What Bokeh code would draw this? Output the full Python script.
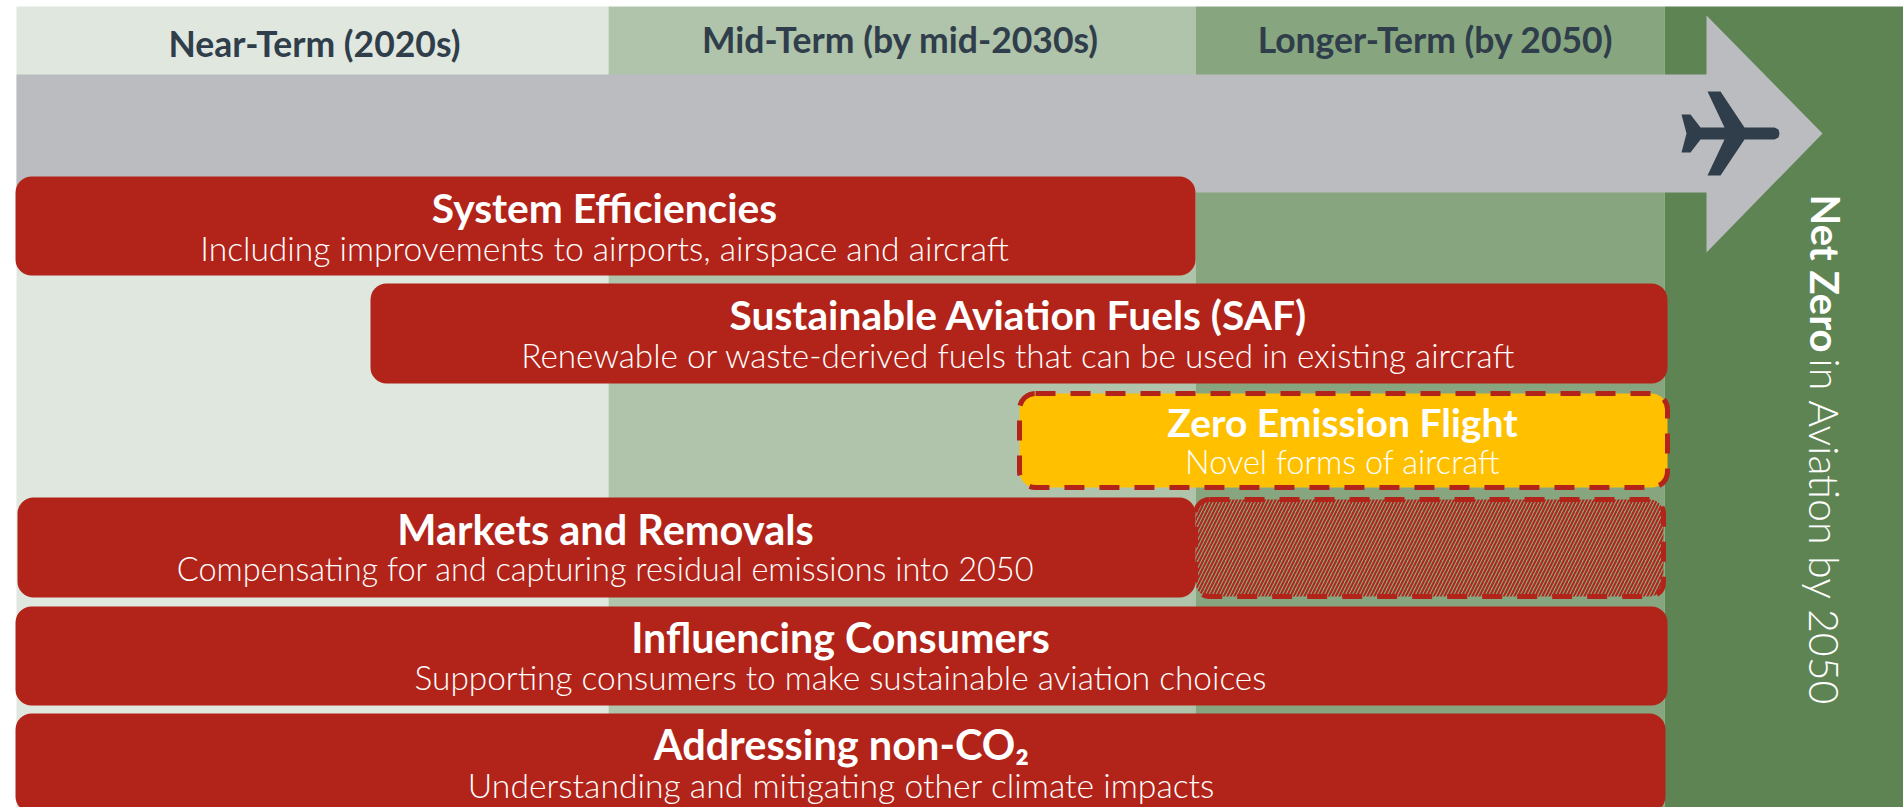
from bokeh.plotting import figure
from bokeh.models import Range1d, ColumnDataSource
from bokeh.core.properties import value
from bokeh.embed import file_html
from bokeh.resources import INLINE
from math import pi

# Timeline phases
phase_labels = ["Near-Term (2020s)", "Mid-Term (by mid-2030s)", "Longer-Term (by 2050)"]
phase_start = [16, 608, 1195]
phase_end = [608, 1195, 1664]
phase_colors = ["#E0E7DF", "#B0C3AB", "#87A680"]
phase_label_x = [314, 900, 1435]
phase_label_y = [43, 39, 39]

# Solid measures
bar_titles = ["System Efficiencies", "Sustainable Aviation Fuels (SAF)", "Markets and Removals",
              "Influencing Consumers", "Addressing non-CO\u2082"]
bar_subs = ["Including improvements to airports, airspace and aircraft",
            "Renewable or waste-derived fuels that can be used in existing aircraft",
            "Compensating for and capturing residual emissions into 2050",
            "Supporting consumers to make sustainable aviation choices",
            "Understanding and mitigating other climate impacts"]
bar_start = [15, 370, 17, 15, 15]
bar_end = [1195, 1667, 1195, 1667, 1665]
bar_top = [176, 283, 497, 606, 713]
bar_bottom = [275, 383, 597, 705, 812]
bar_text_x = [604, 1018, 605, 840, 841]
title_y = [207, 314, 528, 636, 743]
sub_y = [247, 354, 568, 676, 784]
title_size = ["40.7px", "40.7px", "41.5px", "41.2px", "41.5px"]
sub_size = ["33.6px", "33.3px", "32.5px", "33.4px", "33.7px"]

p = figure(width=1903, height=807, x_range=Range1d(0, 1903), y_range=Range1d(807, 0),
           output_backend="svg", toolbar_location=None, min_border=0,
           background_fill_color="white", border_fill_color="white", outline_line_color=None)
p.styles = {"position": "absolute", "left": "0px", "top": "0px"}
p.axis.visible = False
p.grid.visible = False

FONT = "Lato"
FONT_LIGHT = "Lato Light"
LIGHT = "#FFFFFF"
DARK = "#2F3E4A"
RED = "#B22419"

# Background phases
p.quad(left=phase_start, right=phase_end, top=[6] * 3, bottom=[807] * 3,
       fill_color=phase_colors, line_color=None)
p.quad(left=[1664], right=[1903], top=[6], bottom=[807], fill_color="#5F8453", line_color=None)
p.text(x=phase_label_x, y=phase_label_y, text=phase_labels, text_color=DARK,
       text_font=value(FONT), text_font_style="bold", text_font_size="35.5px",
       text_align="center", text_baseline="middle")

# Arrow
arrow_x = [16, 1706, 1706, 1822, 1706, 1706, 16]
arrow_y = [74, 74, 15, 133, 252, 192, 192]
p.patch(arrow_x, arrow_y, fill_color="#BBBCC0", line_color=None)

# Plane icon
plane_x = [1779, 1778, 1774, 1744, 1720, 1707, 1724, 1700, 1690, 1681, 1686, 1681, 1690, 1700, 1724, 1707, 1720, 1744, 1774, 1778]
plane_y = [133, 129, 127, 127, 91, 91, 127, 127, 114, 114, 133, 152, 152, 139, 139, 175, 175, 139, 139, 137]
p.patch(plane_x, plane_y, fill_color=DARK, line_color=None)

# Hatched extension of Markets and Removals
p.quad(left=[1195], right=[1663], top=[499], bottom=[596], fill_color=None,
       hatch_pattern="right_diagonal_line", hatch_color=RED, hatch_scale=7, hatch_weight=2,
       line_color=RED, line_width=5, line_dash="20 15", border_radius=14)

# Solid bars
p.quad(left=bar_start, right=bar_end, top=bar_top, bottom=bar_bottom,
       fill_color=RED, line_color=None, border_radius=16)

# Zero emission flight
p.quad(left=[1019], right=[1667], top=[393], bottom=[487], fill_color="#FFC000",
       line_color=RED, line_width=5, line_dash="20 15", border_radius=16)

src = ColumnDataSource(dict(x=bar_text_x, ty=title_y, sy=sub_y, title=bar_titles, sub=bar_subs,
                            tsize=title_size, ssize=sub_size))
p.text(x="x", y="ty", text="title", source=src, text_color=LIGHT, text_font=value(FONT),
       text_font_style="bold", text_font_size="tsize", text_align="center", text_baseline="middle")
p.text(x="x", y="sy", text="sub", source=src, text_color=LIGHT, text_font=value(FONT_LIGHT),
       text_font_size="ssize", text_align="center", text_baseline="middle")
p.text(x=[1342], y=[421], text=["Zero Emission Flight"], text_color=LIGHT, text_font=value(FONT),
       text_font_style="bold", text_font_size="39px", text_align="center", text_baseline="middle")
p.text(x=[1342], y=[461], text=["Novel forms of aircraft"], text_color=LIGHT, text_font=value(FONT_LIGHT),
       text_font_size="32.6px", text_align="center", text_baseline="middle")

# Vertical goal label
p.text(x=[1825], y=[194], text=["Net Zero"], angle=[-pi / 2], text_color=LIGHT, text_font=value(FONT),
       text_font_style="bold", text_font_size="40px", text_align="left", text_baseline="middle")
p.text(x=[1825], y=[358], text=["in Aviation by 2050"], angle=[-pi / 2], text_color=LIGHT, text_font=value(FONT_LIGHT),
       text_font_size="41.2px", text_align="left", text_baseline="middle")

open("out.html", "w").write(file_html(p, INLINE))
